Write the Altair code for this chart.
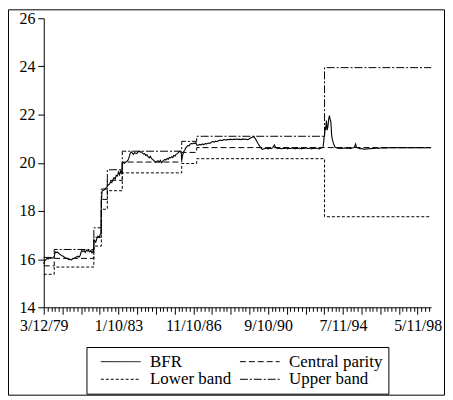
import altair as alt
import pandas as pd
from datetime import datetime, timezone

# ---------------- data ----------------
bfr_dates = [
    "1979-03-12", "1979-03-19", "1979-04-02", "1979-04-23", "1979-05-14", "1979-06-04",
    "1979-06-25", "1979-07-16", "1979-08-06", "1979-08-27", "1979-09-17", "1979-09-24",
    "1979-10-08", "1979-10-22", "1979-11-05", "1979-11-26", "1979-12-17", "1980-01-07",
    "1980-01-28", "1980-02-18", "1980-03-10", "1980-03-31", "1980-04-21", "1980-05-12",
    "1980-06-02", "1980-06-23", "1980-07-14", "1980-08-04", "1980-08-25", "1980-09-15",
    "1980-10-06", "1980-10-27", "1980-11-17", "1980-12-08", "1980-12-29", "1981-01-19",
    "1981-02-09", "1981-02-23", "1981-03-16", "1981-04-06", "1981-04-27", "1981-05-18",
    "1981-06-08", "1981-06-29", "1981-07-20", "1981-08-10", "1981-08-31", "1981-09-21",
    "1981-09-28", "1981-10-05", "1981-10-19", "1981-11-09", "1981-11-30", "1981-12-21",
    "1982-01-11", "1982-02-01", "1982-02-15", "1982-02-22", "1982-03-08", "1982-03-29",
    "1982-04-19", "1982-05-10", "1982-05-31", "1982-06-14", "1982-07-05", "1982-07-26",
    "1982-08-16", "1982-09-06", "1982-09-27", "1982-10-18", "1982-11-08", "1982-11-29",
    "1982-12-20", "1983-01-10", "1983-01-31", "1983-02-21", "1983-03-07", "1983-03-14",
    "1983-03-21", "1983-04-11", "1983-05-02", "1983-05-23", "1983-06-13", "1983-07-04",
    "1983-07-25", "1983-08-15", "1983-09-05", "1983-09-26", "1983-10-17", "1983-11-07",
    "1983-11-28", "1983-12-19", "1984-01-09", "1984-01-30", "1984-02-20", "1984-03-12",
    "1984-04-02", "1984-04-23", "1984-05-14", "1984-06-04", "1984-06-25", "1984-07-16",
    "1984-08-06", "1984-08-27", "1984-09-17", "1984-10-08", "1984-10-29", "1984-11-19",
    "1984-12-10", "1984-12-31", "1985-01-21", "1985-02-11", "1985-03-04", "1985-03-25",
    "1985-04-15", "1985-05-06", "1985-05-27", "1985-06-17", "1985-07-08", "1985-07-29",
    "1985-08-19", "1985-09-09", "1985-09-30", "1985-10-21", "1985-11-11", "1985-12-02",
    "1985-12-23", "1986-01-13", "1986-02-03", "1986-02-24", "1986-03-17", "1986-03-31",
    "1986-04-07", "1986-04-21", "1986-05-12", "1986-06-02", "1986-06-23", "1986-07-14",
    "1986-08-04", "1986-08-25", "1986-09-15", "1986-10-06", "1986-10-27", "1986-11-17",
    "1986-12-08", "1986-12-29", "1987-01-12", "1987-02-02", "1987-03-02", "1987-03-30",
    "1987-04-27", "1987-05-25", "1987-06-22", "1987-07-20", "1987-08-17", "1987-09-14",
    "1987-10-12", "1987-11-09", "1987-12-07", "1988-01-04", "1988-02-01", "1988-02-29",
    "1988-03-28", "1988-04-25", "1988-05-23", "1988-06-20", "1988-07-18", "1988-08-15",
    "1988-09-12", "1988-10-10", "1988-11-07", "1988-12-05", "1989-01-02", "1989-01-30",
    "1989-02-27", "1989-03-27", "1989-04-24", "1989-05-22", "1989-06-19", "1989-07-17",
    "1989-08-14", "1989-09-11", "1989-10-09", "1989-11-06", "1989-11-27", "1989-12-18",
    "1990-01-08", "1990-02-05", "1990-03-05", "1990-04-02", "1990-04-30", "1990-05-28",
    "1990-06-18", "1990-07-16", "1990-08-13", "1990-09-10", "1990-10-08", "1990-11-05",
    "1990-12-03", "1991-01-07", "1991-01-28", "1991-02-25", "1991-03-25", "1991-04-22",
    "1991-05-20", "1991-06-17", "1991-07-15", "1991-08-12", "1991-09-09", "1991-10-07",
    "1991-11-04", "1991-12-02", "1991-12-30", "1992-01-27", "1992-02-24", "1992-03-23",
    "1992-04-20", "1992-05-18", "1992-06-15", "1992-07-13", "1992-08-10", "1992-09-07",
    "1992-10-05", "1992-11-02", "1992-11-30", "1992-12-28", "1993-01-25", "1993-02-22",
    "1993-03-22", "1993-04-19", "1993-05-17", "1993-06-14", "1993-07-05", "1993-07-19",
    "1993-07-26", "1993-08-02", "1993-08-09", "1993-08-23", "1993-09-06", "1993-09-20",
    "1993-10-04", "1993-10-18", "1993-11-01", "1993-11-15", "1993-11-29", "1993-12-13",
    "1993-12-27", "1994-01-17", "1994-02-14", "1994-03-14", "1994-04-11", "1994-05-09",
    "1994-06-06", "1994-07-04", "1994-08-01", "1994-08-29", "1994-09-26", "1994-10-24",
    "1994-11-21", "1994-12-19", "1995-01-16", "1995-02-13", "1995-03-06", "1995-03-20",
    "1995-04-10", "1995-05-08", "1995-06-05", "1995-07-03", "1995-07-31", "1995-08-28",
    "1995-09-25", "1995-10-23", "1995-11-20", "1995-12-18", "1996-01-15", "1996-02-12",
    "1996-03-11", "1996-04-08", "1996-05-06", "1996-06-03", "1996-07-01", "1996-07-29",
    "1996-08-26", "1996-09-23", "1996-10-21", "1996-11-18", "1996-12-16", "1997-01-13",
    "1997-02-10", "1997-03-10", "1997-04-07", "1997-05-05", "1997-06-02", "1997-06-30",
    "1997-07-28", "1997-08-25", "1997-09-22", "1997-10-20", "1997-11-17", "1997-12-15",
    "1998-01-12", "1998-02-09", "1998-03-09", "1998-04-06", "1998-05-04", "1998-06-01",
    "1998-06-29", "1998-07-27", "1998-08-24", "1998-09-21", "1998-10-19", "1998-11-16",
    "1998-12-14", "1999-01-11",
]
bfr_values = [
    15.80, 15.86, 15.95, 15.98, 16.03, 16.00,
    16.05, 16.03, 16.06, 16.04, 16.06, 16.12,
    16.25, 16.30, 16.27, 16.29, 16.24, 16.20,
    16.17, 16.14, 16.12, 16.08, 16.06, 16.03,
    16.01, 15.98, 16.00, 15.96, 16.00, 16.02,
    16.04, 16.07, 16.09, 16.12, 16.08, 16.14,
    16.30, 16.36, 16.31, 16.35, 16.28, 16.37,
    16.33, 16.36, 16.30, 16.36, 16.26, 16.36,
    16.33, 16.72, 16.78, 16.70, 16.85, 16.95,
    16.90, 17.02, 17.10, 18.40, 18.82, 18.86,
    18.88, 18.93, 18.98, 19.02, 19.08, 19.12,
    19.22, 19.18, 19.30, 19.38, 19.32, 19.48,
    19.45, 19.62, 19.50, 19.68, 19.55, 19.65,
    19.97, 20.00, 19.98, 20.03, 20.05, 20.10,
    20.22, 20.38, 20.45, 20.40, 20.35, 20.42,
    20.40, 20.38, 20.45, 20.48, 20.44, 20.46,
    20.40, 20.36, 20.38, 20.30, 20.33, 20.25,
    20.20, 20.27, 20.18, 20.14, 20.10, 20.05,
    20.02, 20.06, 20.08, 20.04, 20.10, 20.00,
    20.06, 20.10, 20.14, 20.12, 20.18, 20.15,
    20.22, 20.20, 20.25, 20.22, 20.30, 20.28,
    20.35, 20.38, 20.42, 20.48, 20.45, 20.38,
    20.12, 20.28, 20.45, 20.52, 20.62, 20.68,
    20.72, 20.70, 20.78, 20.80, 20.78, 20.82,
    20.80, 20.84, 20.74, 20.72, 20.76, 20.74,
    20.78, 20.75, 20.80, 20.78, 20.82, 20.80,
    20.85, 20.88, 20.86, 20.90, 20.88, 20.92,
    20.94, 20.92, 20.95, 20.96, 20.94, 20.97,
    20.96, 20.98, 20.96, 20.98, 20.97, 20.99,
    20.97, 20.98, 20.96, 20.99, 20.97, 20.98,
    20.96, 20.98, 21.02, 21.05, 21.06, 21.09,
    21.02, 20.92, 20.80, 20.70, 20.62, 20.55,
    20.58, 20.59, 20.61, 20.58, 20.60, 20.59,
    20.62, 20.74, 20.64, 20.60, 20.59, 20.61,
    20.58, 20.60, 20.59, 20.61, 20.58, 20.60,
    20.59, 20.61, 20.60, 20.58, 20.60, 20.59,
    20.61, 20.58, 20.60, 20.59, 20.62, 20.60,
    20.59, 20.61, 20.58, 20.60, 20.59, 20.61,
    20.60, 20.58, 20.60, 20.62, 20.65, 20.90,
    21.10, 21.10, 21.45, 21.40, 21.75, 21.35,
    21.50, 21.80, 21.96, 21.80, 21.70, 21.15,
    20.95, 20.80, 20.65, 20.62, 20.60, 20.61,
    20.59, 20.61, 20.60, 20.62, 20.60, 20.61,
    20.59, 20.60, 20.62, 20.64, 20.78, 20.66,
    20.62, 20.60, 20.58, 20.59, 20.57, 20.56,
    20.58, 20.57, 20.59, 20.58, 20.60, 20.59,
    20.60, 20.61, 20.60, 20.61, 20.62, 20.61,
    20.62, 20.61, 20.62, 20.63, 20.62, 20.63,
    20.62, 20.63, 20.62, 20.63, 20.63, 20.62,
    20.63, 20.62, 20.63, 20.63, 20.62, 20.63,
    20.62, 20.63, 20.62, 20.63, 20.63, 20.62,
    20.63, 20.62, 20.63, 20.62, 20.63, 20.63,
    20.63, 20.63,
]

parity_dates = ["1979-03-12", "1979-09-24", "1981-10-05", "1982-02-22", "1982-06-14",
                "1983-03-21", "1986-04-07", "1987-01-12", "1993-08-02", "1999-01-18"]
central_values = [15.72, 16.03, 16.91, 18.48, 19.27, 20.03, 20.43, 20.63, 20.63, 20.63]
lower_values = [15.37, 15.67, 16.54, 18.07, 18.84, 19.58, 19.97, 20.17, 17.76, 17.76]
upper_values = [16.07, 16.40, 17.30, 18.91, 19.71, 20.48, 20.89, 21.10, 23.95, 23.95]

# legend order (column-major, two columns): BFR / Lower band | Central parity / Upper band
series_names = ["BFR", "Lower band", "Central parity", "Upper band"]
series_dashes = [[1, 0], [3, 2], [6, 3], [8, 2, 2, 2]]
y_ticks = [14, 16, 18, 20, 22, 24, 26]
axis_start = "1979-03-12"
axis_end = "1999-01-18"

# ---------------- helpers ----------------
DAY = 86400000


def ms(s):
    return int(datetime.strptime(s, "%Y-%m-%d").replace(tzinfo=timezone.utc).timestamp() * 1000)


T0 = ms(axis_start)
T1 = ms(axis_end)
x_tick_values = list(range(T0, T1 + 1, 70 * DAY))

bfr_df = pd.DataFrame({"date": bfr_dates, "value": bfr_values, "series": "BFR"})
band_rows = []
for name, vals in [("Central parity", central_values), ("Lower band", lower_values),
                   ("Upper band", upper_values)]:
    for d, v in zip(parity_dates, vals):
        band_rows.append({"date": d, "value": v, "series": name})
band_df = pd.DataFrame(band_rows)

FONT = "Liberation Serif, Times New Roman, serif"

x_enc = alt.X(
    "date:T",
    scale=alt.Scale(type="utc", domain=[T0, T1], nice=False),
    axis=alt.Axis(
        title=None,
        values=x_tick_values,
        labelExpr=f"round((datum.value - {T0}) / {DAY}) % 1400 == 0 ? utcFormat(datum.value, '%-m/%-d/%y') : ''",
        labelOverlap=False,
        labelFlush=False,
        tickSize={"condition": {"test": f"round((datum.value - {T0}) / {DAY}) % 350 == 0", "value": 7}, "value": 4},
        labelPadding=3,
        grid=False,
        domainColor="black",
        tickColor="black",
        labelColor="black",
        labelFont=FONT,
        labelFontSize=16,
    ),
)
y_enc = alt.Y(
    "value:Q",
    scale=alt.Scale(domain=[14, 26], nice=False, zero=False),
    axis=alt.Axis(
        title=None,
        values=y_ticks,
        tickSize=6,
        labelPadding=3,
        grid=False,
        domainColor="black",
        tickColor="black",
        labelColor="black",
        labelFont=FONT,
        labelFontSize=16,
    ),
)
dash_enc = alt.StrokeDash(
    "series:N",
    scale=alt.Scale(domain=series_names, range=series_dashes),
    legend=alt.Legend(
        title=None,
        orient="none",
        legendX=43,
        legendY=331,
        columns=2,
        columnPadding=0,
        rowPadding=0,
        padding=6,
        strokeColor="black",
        cornerRadius=0,
        symbolType="M0,0H10",
        symbolSize=64,
        symbolStrokeWidth=1,
        symbolStrokeColor="black",
        symbolFillColor="transparent",
        labelFont=FONT,
        labelFontSize=17,
        labelColor="black",
        labelOffset=41,
    ),
)

bfr_line = alt.Chart(bfr_df).mark_line(color="black", strokeWidth=1.1).encode(
    x=x_enc, y=y_enc, strokeDash=dash_enc, detail="series:N"
)
band_lines = alt.Chart(band_df).mark_line(color="black", strokeWidth=1, interpolate="step-after").encode(
    x=x_enc, y=y_enc, strokeDash=dash_enc, detail="series:N"
)

frame = alt.Chart(pd.DataFrame({"a": [0]})).mark_rect(
    fill=None, stroke="black", strokeWidth=1
).encode(
    x=alt.value(-35.5), x2=alt.value(403.5), y=alt.value(-8.5), y2=alt.value(379.5)
)

chart = alt.layer(frame, band_lines, bfr_line).properties(
    width=390, height=291, padding=0
).configure(font=FONT).configure_view(stroke=None)

chart.save("out.html", embed_options={"renderer": "svg", "actions": False})
